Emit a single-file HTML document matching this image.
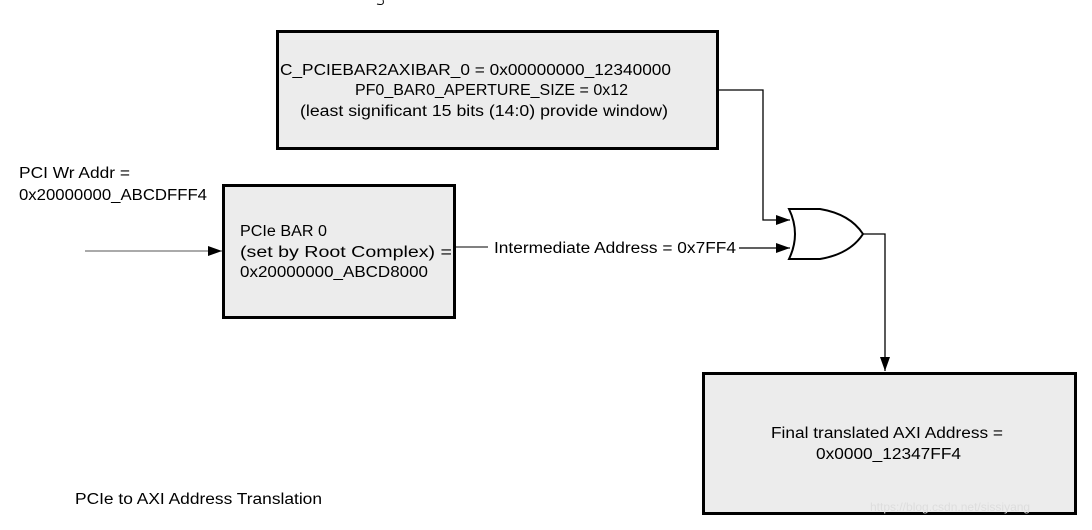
<!DOCTYPE html>
<html><head><style>
body{margin:0;width:1092px;height:525px;background:#fff;overflow:hidden;font-family:"Liberation Sans",sans-serif;}
</style></head><body>
<svg width="1092" height="525" xmlns="http://www.w3.org/2000/svg" font-family="Liberation Sans, sans-serif" font-size="15.5" fill="#000">
<defs><marker id="a" markerWidth="14" markerHeight="10" refX="14" refY="5" orient="auto" markerUnits="userSpaceOnUse"><path d="M0,0 L14,5 L0,10 z" fill="#000"/></marker></defs>
<path d="M383,0 q2,6 -6,4" stroke="#000" fill="none" stroke-width="1"/>
<rect x="277.5" y="31.5" width="440" height="117" fill="#ececec" stroke="#000" stroke-width="3"/>
<text x="280" y="75" textLength="391" lengthAdjust="spacingAndGlyphs">C_PCIEBAR2AXIBAR_0 = 0x00000000_12340000</text>
<text x="355" y="95" textLength="273" lengthAdjust="spacingAndGlyphs">PF0_BAR0_APERTURE_SIZE = 0x12</text>
<text x="300" y="116" textLength="368" lengthAdjust="spacingAndGlyphs">(least significant 15 bits (14:0) provide window)</text>
<rect x="223.5" y="185.5" width="231" height="132" fill="#ececec" stroke="#000" stroke-width="3"/>
<text x="240" y="236" textLength="87" lengthAdjust="spacingAndGlyphs">PCIe BAR 0</text>
<text x="240" y="257" textLength="212" lengthAdjust="spacingAndGlyphs">(set by Root Complex) =</text>
<text x="240" y="277" textLength="188" lengthAdjust="spacingAndGlyphs">0x20000000_ABCD8000</text>
<rect x="703.5" y="373.5" width="372" height="140" fill="#ececec" stroke="#000" stroke-width="3"/>
<text x="771" y="438" textLength="232" lengthAdjust="spacingAndGlyphs">Final translated AXI Address =</text>
<text x="816" y="459" textLength="145" lengthAdjust="spacingAndGlyphs">0x0000_12347FF4</text>
<text x="19" y="178" textLength="111" lengthAdjust="spacingAndGlyphs">PCI Wr Addr =</text>
<text x="19" y="200" textLength="188" lengthAdjust="spacingAndGlyphs">0x20000000_ABCDFFF4</text>
<text x="75" y="504" textLength="247" lengthAdjust="spacingAndGlyphs">PCIe to AXI Address Translation</text>
<line x1="85" y1="251" x2="222" y2="251" stroke="#555" stroke-width="1" marker-end="url(#a)"/>
<line x1="456" y1="247" x2="488" y2="247" stroke="#000" stroke-width="1"/>
<text x="494" y="253" textLength="242" lengthAdjust="spacingAndGlyphs">Intermediate Address = 0x7FF4</text>
<line x1="739" y1="248" x2="790" y2="248" stroke="#000" stroke-width="1.3" marker-end="url(#a)"/>
<path d="M719,90 H763 V220 H790" stroke="#000" fill="none" stroke-width="1.3" marker-end="url(#a)"/>
<path d="M789,209 Q801,234 789,259 H820 Q850,254 863,234 Q850,214 820,209 Z" fill="#fff" stroke="#000" stroke-width="2"/>
<path d="M863,234 H885 V371" stroke="#000" fill="none" stroke-width="1.3" marker-end="url(#a)"/>
<text x="870" y="511" font-size="12" fill="#ddd">https://blog.csdn.net/sissiyang</text>
</svg>
</body></html>
